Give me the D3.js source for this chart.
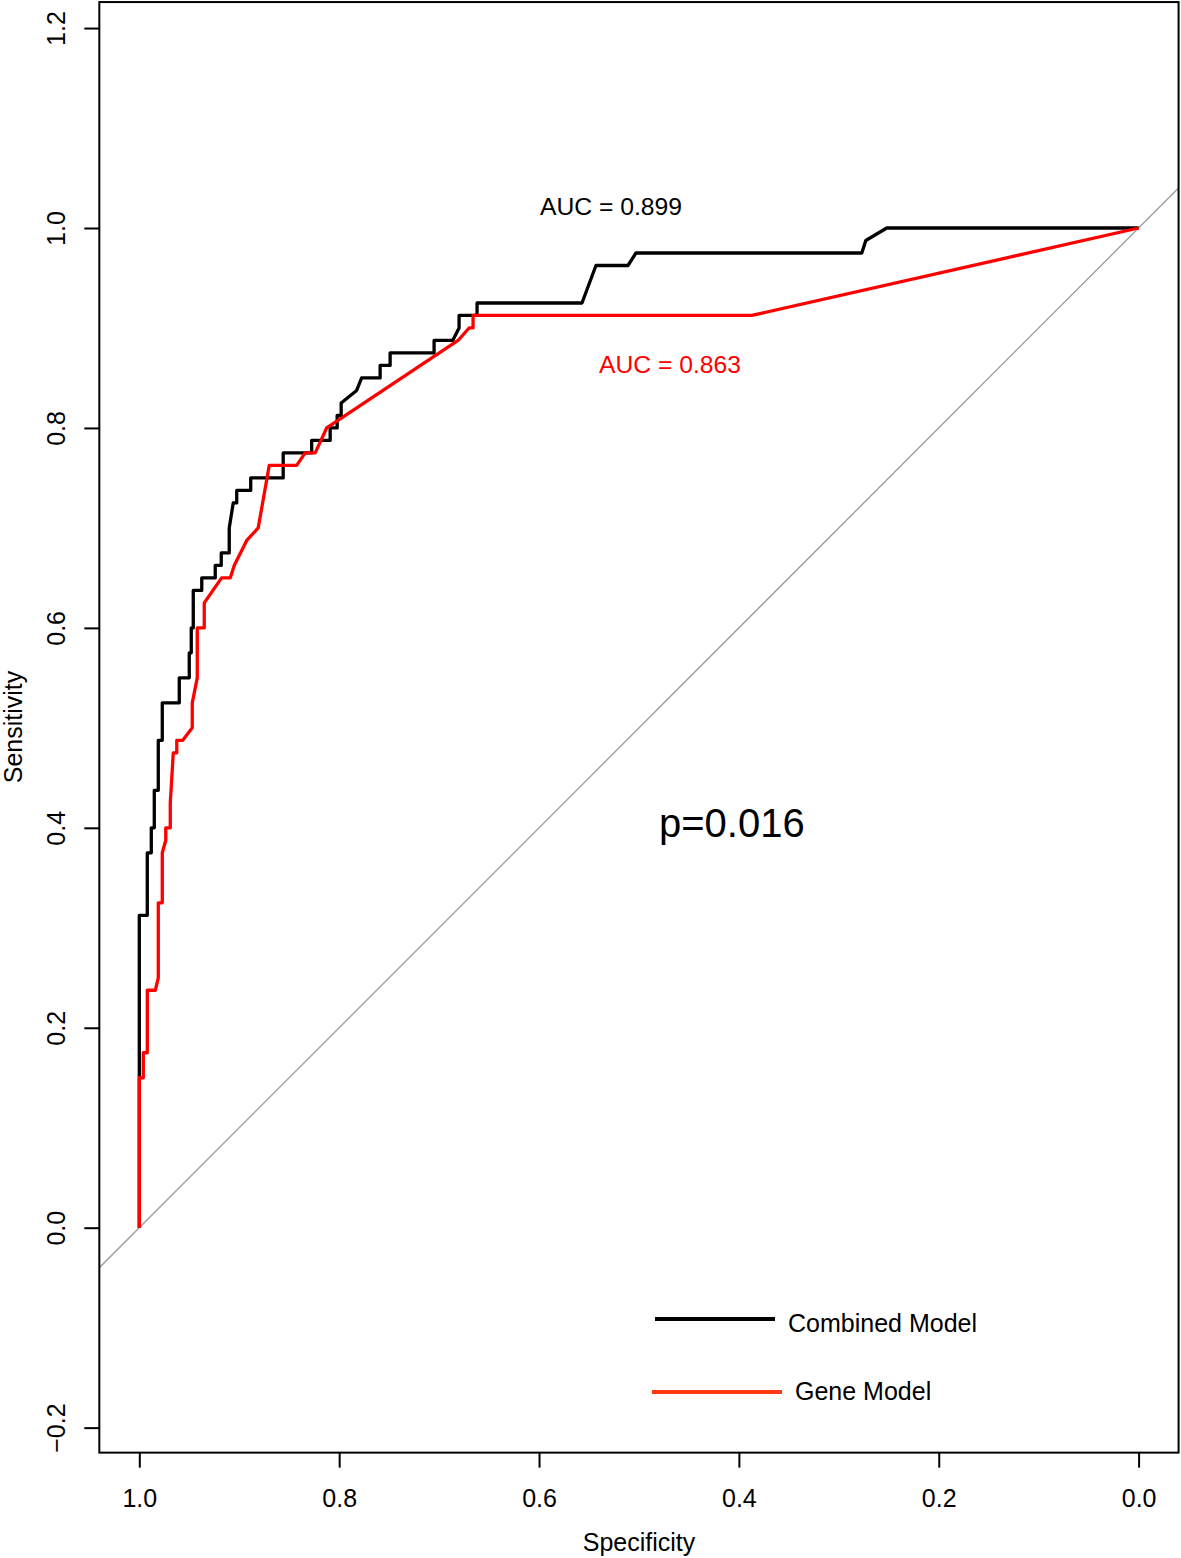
<!DOCTYPE html>
<html>
<head>
<meta charset="utf-8">
<script src="https://cdn.jsdelivr.net/npm/d3@7"></script>
<style>
  body { margin: 0; background: #fff; }
  svg text { font-family: "Liberation Sans", Arial, Helvetica, sans-serif; }
</style>
</head>
<body>
<div id="chart"></div>
<script>
// ROC curve points (specificity, sensitivity)
const combinedSpec = [1.000, 1.000, 0.992, 0.992, 0.988, 0.988, 0.985, 0.985, 0.981, 0.981,
    0.977, 0.977, 0.960, 0.960, 0.950, 0.950, 0.948, 0.948, 0.946, 0.946,
    0.9375, 0.9375, 0.924, 0.924, 0.918, 0.918, 0.910, 0.910, 0.906, 0.9025,
    0.9025, 0.8885, 0.8885, 0.856, 0.856, 0.8275, 0.8275, 0.809, 0.809, 0.802,
    0.802, 0.798, 0.798, 0.7825, 0.7775, 0.759, 0.759, 0.749, 0.749, 0.705,
    0.705, 0.6864, 0.680, 0.680, 0.662, 0.662, 0.557, 0.543, 0.511, 0.503,
    0.277, 0.273, 0.252, 0.000];
const combinedSens = [0.000, 0.3125, 0.3125, 0.375, 0.375, 0.400, 0.400, 0.4375, 0.4375, 0.4875,
    0.4875, 0.525, 0.525, 0.550, 0.550, 0.575, 0.575, 0.600, 0.600, 0.6375,
    0.6375, 0.650, 0.650, 0.6625, 0.6625, 0.675, 0.675, 0.700, 0.725, 0.725,
    0.7375, 0.7375, 0.750, 0.750, 0.775, 0.775, 0.7875, 0.7875, 0.800, 0.800,
    0.8125, 0.8125, 0.825, 0.8375, 0.850, 0.850, 0.8625, 0.8625, 0.875, 0.875,
    0.8875, 0.8875, 0.900, 0.9125, 0.9125, 0.925, 0.925, 0.9625, 0.9625, 0.975,
    0.975, 0.9875, 1.000, 1.000];

const geneSpec = [1.000, 1.000, 0.996, 0.996, 0.992, 0.992, 0.984, 0.981, 0.981, 0.977,
    0.977, 0.9735, 0.9735, 0.969, 0.969, 0.966, 0.9625, 0.9625, 0.9565, 0.947,
    0.947, 0.942, 0.942, 0.935, 0.935, 0.9176, 0.909, 0.905, 0.8925, 0.881,
    0.870, 0.8425, 0.834, 0.824, 0.8125, 0.681, 0.670, 0.666, 0.666, 0.387,
    0.000];
const geneSens = [0.000, 0.150, 0.150, 0.175, 0.175, 0.2375, 0.2375, 0.250, 0.325, 0.325,
    0.375, 0.3875, 0.400, 0.400, 0.425, 0.475, 0.475, 0.4875, 0.4875, 0.500,
    0.525, 0.550, 0.600, 0.600, 0.625, 0.650, 0.650, 0.6625, 0.6875, 0.700,
    0.7625, 0.7625, 0.775, 0.775, 0.800, 0.8875, 0.900, 0.900, 0.9125, 0.9125,
    1.000];

const xTicks = [1.0, 0.8, 0.6, 0.4, 0.2, 0.0];
const yTicks = [-0.2, 0.0, 0.2, 0.4, 0.6, 0.8, 1.0, 1.2];
const aucLabels = ['AUC = 0.899', 'AUC = 0.863'];
const seriesNames = ['Combined Model', 'Gene Model'];
const pLabel = 'p=0.016';

const width = 1181, height = 1558;
const x = d3.scaleLinear().domain([1, 0]).range([139.3, 1138.6]);
const y = d3.scaleLinear().domain([0, 1]).range([1227.7, 228]);
const xLim = [1.04, -0.04];
const yLim = [-0.225, 1.226];

const svg = d3.select('#chart').append('svg')
    .attr('width', width)
    .attr('height', height);

svg.append('defs').append('clipPath').attr('id', 'plotclip')
    .append('rect')
    .attr('x', x(xLim[0])).attr('y', y(yLim[1]))
    .attr('width', x(xLim[1]) - x(xLim[0]))
    .attr('height', y(yLim[0]) - y(yLim[1]));

// chance diagonal
svg.append('line')
    .attr('clip-path', 'url(#plotclip)')
    .attr('x1', x(1.04)).attr('y1', y(-0.04))
    .attr('x2', x(-0.04)).attr('y2', y(1.04))
    .style('stroke', '#999')
    .style('stroke-width', 1.3);

const line = d3.line().x(d => x(d[0])).y(d => y(d[1]));

svg.append('path')
    .datum(combinedSpec.map((s, i) => [s, combinedSens[i]]))
    .attr('d', line)
    .style('fill', 'none')
    .style('stroke', '#000')
    .style('stroke-width', 3.3)
    .style('stroke-linejoin', 'round');

svg.append('path')
    .datum(geneSpec.map((s, i) => [s, geneSens[i]]))
    .attr('d', line)
    .style('fill', 'none')
    .style('stroke', '#ff0000')
    .style('stroke-width', 3.3)
    .style('stroke-linejoin', 'round');

// frame
svg.append('rect')
    .attr('x', x(xLim[0])).attr('y', y(yLim[1]))
    .attr('width', x(xLim[1]) - x(xLim[0]))
    .attr('height', y(yLim[0]) - y(yLim[1]))
    .style('fill', 'none')
    .style('stroke', '#000')
    .style('stroke-width', 2);

// axes
const xAxis = svg.append('g')
    .attr('transform', `translate(0,${y(yLim[0])})`)
    .call(d3.axisBottom(x).tickValues(xTicks).tickFormat(d3.format('.1f'))
        .tickSize(15).tickPadding(22));
xAxis.select('.domain').remove();
xAxis.selectAll('line').style('stroke-width', 2);
xAxis.selectAll('text').style('font-size', '25px').style('fill', '#000')
    .style('font-family', '"Liberation Sans", Arial, sans-serif');

const yAxis = svg.append('g')
    .attr('transform', `translate(${x(xLim[0])},0)`)
    .call(d3.axisLeft(y).tickValues(yTicks).tickFormat(d3.format('.1f')).tickSize(15));
yAxis.select('.domain').remove();
yAxis.selectAll('line').style('stroke-width', 2);
yAxis.selectAll('text')
    .attr('x', 0).attr('dy', 0)
    .attr('transform', 'translate(-34,0) rotate(-90)')
    .style('text-anchor', 'middle')
    .style('font-size', '25px').style('fill', '#000')
    .style('font-family', '"Liberation Sans", Arial, sans-serif');

svg.append('text')
    .attr('x', 639).attr('y', 1551)
    .attr('text-anchor', 'middle')
    .style('font-size', '25px')
    .text('Specificity');

svg.append('text')
    .attr('transform', 'translate(22,727) rotate(-90)')
    .attr('text-anchor', 'middle')
    .style('font-size', '25px')
    .text('Sensitivity');

// annotations
svg.append('text')
    .attr('x', 540).attr('y', 215)
    .style('font-size', '24.7px').style('fill', '#000')
    .text(aucLabels[0]);

svg.append('text')
    .attr('x', 599).attr('y', 373)
    .style('font-size', '24.7px').style('fill', '#ff0000')
    .text(aucLabels[1]);

svg.append('text')
    .attr('x', 659).attr('y', 837)
    .style('font-size', '40px').style('fill', '#000')
    .text(pLabel);

// legend
const legend = [
    { name: seriesNames[0], color: '#000', x1: 655, x2: 775, ly: 1319, tx: 788, ty: 1332 },
    { name: seriesNames[1], color: '#ff3a12', x1: 652, x2: 782, ly: 1392, tx: 795, ty: 1400 }
];
legend.forEach(d => {
    svg.append('line')
        .attr('x1', d.x1).attr('x2', d.x2)
        .attr('y1', d.ly).attr('y2', d.ly)
        .style('stroke', d.color)
        .style('stroke-width', 4);
    svg.append('text')
        .attr('x', d.tx).attr('y', d.ty)
        .style('font-size', '25px')
        .text(d.name);
});
</script>
</body>
</html>
